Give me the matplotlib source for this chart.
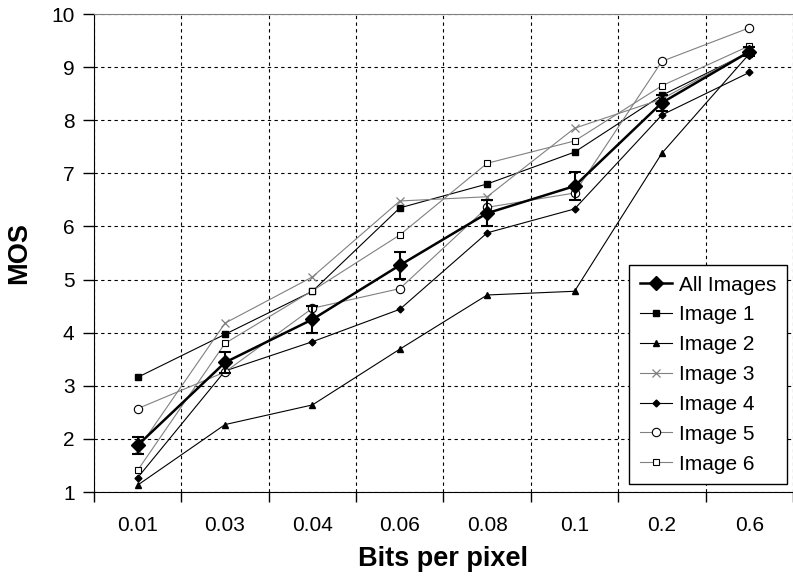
import numpy as np
import matplotlib
matplotlib.use("Agg")
from matplotlib import pyplot as plt

plt.rcParams['font.family'] = ['Liberation Sans', 'DejaVu Sans']

# Bit rates tested and mean opinion scores
bpp = ["0.01", "0.03", "0.04", "0.06", "0.08", "0.1", "0.2", "0.6"]

all_images = [1.88, 3.44, 4.25, 5.27, 6.25, 6.76, 8.33, 9.29]
all_err = [0.16, 0.20, 0.25, 0.25, 0.25, 0.26, 0.15, 0.08]

image1 = [3.16, 3.97, 4.78, 6.35, 6.80, 7.40, 8.47, 9.28]
image2 = [1.13, 2.27, 2.64, 3.69, 4.71, 4.78, 7.38, 9.25]
image3 = [1.80, 4.18, 5.05, 6.48, 6.56, 7.85, 8.40, 9.30]
image4 = [1.27, 3.28, 3.83, 4.44, 5.88, 6.33, 8.10, 8.90]
image5 = [2.57, 3.26, 4.46, 4.83, 6.36, 6.63, 9.11, 9.74]
image6 = [1.41, 3.80, 4.79, 5.84, 7.19, 7.61, 8.65, 9.40]

x = np.arange(1, len(bpp) + 1)

fig = plt.figure(figsize=(7.93, 5.82), dpi=100)
ax = fig.add_axes([0.1185, 0.1546, 0.8815, 0.8213])

gray = "#808080"
ax.plot(x, image1, color="black", lw=0.8, marker="s", ms=4.5, label="Image 1", zorder=3)
ax.plot(x, image2, color="black", lw=0.8, marker="^", ms=5, label="Image 2", zorder=3)
ax.plot(x, image3, color=gray, lw=0.8, marker="x", ms=6, mew=0.9, label="Image 3", zorder=3)
ax.plot(x, image4, color="black", lw=0.8, marker="D", ms=3.5, label="Image 4", zorder=3)
ax.plot(x, image5, color=gray, lw=0.8, marker="o", ms=6, mfc="white", mec="black",
        mew=0.8, label="Image 5", zorder=3)
ax.plot(x, image6, color=gray, lw=0.8, marker="s", ms=5, mfc="white", mec="black",
        mew=0.8, label="Image 6", zorder=3)

# mean over all images with its error bars
ax.errorbar(x, all_images, yerr=all_err, fmt="none", ecolor="black",
            capsize=4, elinewidth=1.5, capthick=1.5, zorder=4)
ax.plot(x, all_images, color="black", lw=1.8, marker="D", ms=7,
        label="All Images", zorder=5)

ax.set_xlim(0.5, 8.5)
ax.set_ylim(1, 10)
ax.set_yticks(range(1, 11))
ax.set_xticks(x)
ax.set_xticklabels(bpp)
ax.set_xticks(np.arange(0.5, 9.0, 1.0), minor=True)

ax.tick_params(axis="x", which="major", length=0, pad=17, labelsize=15)
ax.tick_params(axis="x", which="minor", length=7, direction="out", width=1)
ax.tick_params(axis="y", length=8, direction="out", width=1, labelsize=15, pad=6)

ax.grid(axis="y", which="major", color="black", ls=(0, (3, 3)), lw=0.8)
ax.grid(axis="x", which="minor", color="black", ls=(0, (3, 3)), lw=0.8)

ax.spines["top"].set_color(gray)
ax.spines["right"].set_visible(False)

ax.set_xlabel("Bits per pixel", fontsize=19.5, fontweight="bold", labelpad=8)
ax.set_ylabel("MOS", fontsize=19.5, fontweight="bold", labelpad=14)

handles, labels = ax.get_legend_handles_labels()
order = [6, 0, 1, 2, 3, 4, 5]
leg = ax.legend([handles[i] for i in order], [labels[i] for i in order],
                loc="lower right", bbox_to_anchor=(787 / 793, 98 / 582),
                bbox_transform=fig.transFigure, borderaxespad=0,
                fancybox=False, edgecolor="black", framealpha=1,
                fontsize=15, handlelength=1.55, labelspacing=0.52,
                handletextpad=0.35, borderpad=0.5)
leg.get_frame().set_linewidth(1.0)

fig.savefig("out.png", dpi=100)
